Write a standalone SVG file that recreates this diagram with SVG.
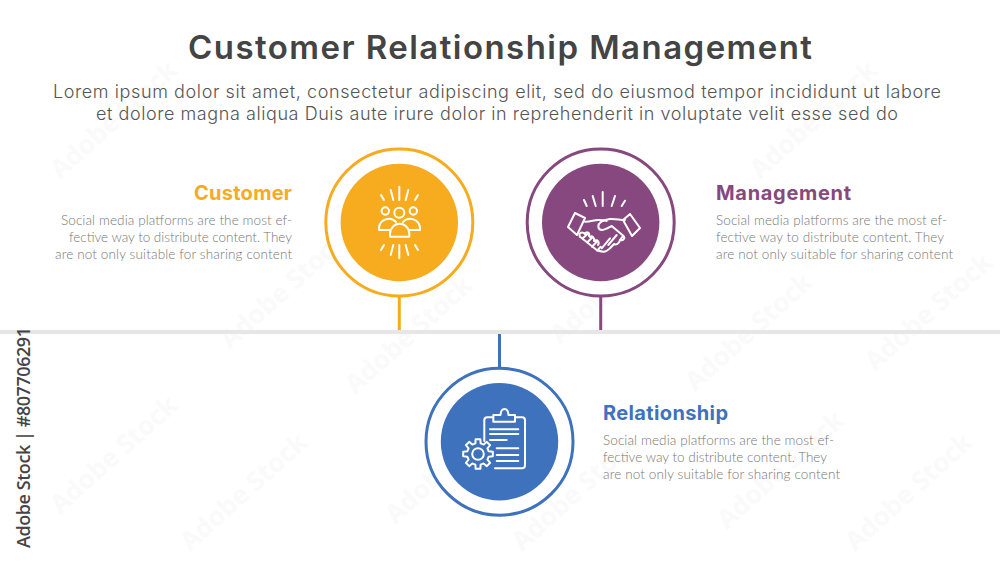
<svg xmlns="http://www.w3.org/2000/svg" width="1000" height="563" viewBox="0 0 1000 563">
<style>
text{font-family:"Inter","Open Sans","Liberation Sans",sans-serif}
.wm{font-size:26px;font-weight:700;fill:#fafafa;font-family:"Open Sans","Liberation Sans",sans-serif}
.t{font-size:33px;font-weight:600;fill:#444}
.s{font-size:18px;font-weight:300;fill:#555}
.h{font-size:20px;font-weight:700}
.b{font-size:13.500px;font-weight:300;fill:#777;font-family:"Lato","Open Sans","Liberation Sans",sans-serif}
.ic{fill:none;stroke:#fff;stroke-width:2;stroke-linecap:round;stroke-linejoin:round}
.ring{fill:#fff;stroke-width:3}
</style>
<rect width="1000" height="563" fill="#fff"/>
<g id="watermarks">
<text class="wm" transform="translate(60,180) rotate(-42)">Adobe Stock</text>
<text class="wm" transform="translate(230,350) rotate(-42)">Adobe Stock</text>
<text class="wm" transform="translate(355,395) rotate(-42)">Adobe Stock</text>
<text class="wm" transform="translate(560,345) rotate(-42)">Adobe Stock</text>
<text class="wm" transform="translate(695,392) rotate(-42)">Adobe Stock</text>
<text class="wm" transform="translate(875,372) rotate(-42)">Adobe Stock</text>
<text class="wm" transform="translate(60,515) rotate(-42)">Adobe Stock</text>
<text class="wm" transform="translate(190,552) rotate(-42)">Adobe Stock</text>
<text class="wm" transform="translate(395,525) rotate(-42)">Adobe Stock</text>
<text class="wm" transform="translate(522,552) rotate(-42)">Adobe Stock</text>
<text class="wm" transform="translate(727,530) rotate(-42)">Adobe Stock</text>
<text class="wm" transform="translate(855,552) rotate(-42)">Adobe Stock</text>
<text class="wm" transform="translate(760,180) rotate(-42)">Adobe Stock</text>
</g>
<text class="t" x="500" y="59" text-anchor="middle" textLength="624" lengthAdjust="spacing">Customer Relationship Management</text>
<text class="s" x="497" y="98" text-anchor="middle" textLength="888" lengthAdjust="spacing">Lorem ipsum dolor sit amet, consectetur adipiscing elit, sed do eiusmod tempor incididunt ut labore</text>
<text class="s" x="497" y="120" text-anchor="middle" textLength="802" lengthAdjust="spacing">et dolore magna aliqua Duis aute irure dolor in reprehenderit in voluptate velit esse sed do</text>
<rect id="divider" x="0" y="330" width="1000" height="4" fill="#e6e6e6"/>
<g id="connectors" stroke-width="3" fill="none">
<path d="M399.300 296V330" stroke="#f7ab1e"/>
<path d="M600.700 296V330" stroke="#86487f"/>
<path d="M499.500 334V368" stroke="#3f72bc"/>
</g>
<g id="node-customer">
<circle class="ring" cx="399.300" cy="222.500" r="73.500" stroke="#f7ab1e"/>
<circle cx="399.300" cy="222.500" r="58.700" fill="#f7ab1e"/>
<g class="ic">
<path d="M399.300 186.700V200M390.700 190L393.300 200M408.300 190L405.700 200M381 195L384 200M418 195L415 200"/>
<path d="M399.300 245V258.300M393.300 245L390.700 255M405.700 245L408.300 255M384 245L381 250M415 245L418 250"/>
<circle cx="399.300" cy="212.700" r="5"/><circle cx="385.300" cy="211" r="3.700"/><circle cx="413.300" cy="211" r="3.700"/>
<path d="M390 230H379V228A9.800 9.800 0 0 1 396 222M409 230H420V228A9.800 9.800 0 0 0 403 222"/>
<path d="M390 236.700V233.500A9.650 9.650 0 0 1 409.300 233.500V236.700Z"/>
</g>
<text class="h" x="292" y="200" text-anchor="end" textLength="98" fill="#f7ab1e">Customer</text>
<text class="b" x="292" y="225" text-anchor="end" textLength="231">Social media platforms are the most ef-</text>
<text class="b" x="292" y="242" text-anchor="end" textLength="223">fective way to distribute content. They</text>
<text class="b" x="292" y="259" text-anchor="end" textLength="237">are not only suitable for sharing content</text>
</g>
<g id="node-management">
<circle class="ring" cx="600.700" cy="222.500" r="73.500" stroke="#86487f"/>
<circle cx="600.700" cy="222.500" r="58.700" fill="#86487f"/>
<g class="ic">
<path d="M602.700 192V206M592.700 196L595.700 206M615 196L611.700 206M584 200L586.700 206M625 200.700L621.700 206"/>
<path d="M575 213L585 218L577 235L568 227ZM630 214L640 228L632 236L623 220Z"/>
<path d="M585 221.700C590 222 594 220 598 220C601 220 604 220 606.700 221"/>
<path d="M625 220C620 220 615 218.500 610 219C604 220 598 222 598.300 226.700C598.500 229 600 230 602 230C605 230 608 228 611.700 226L623.300 235.700C626 238 623 241 620 240L623.300 235.700M620 240C619 244 616 245 614 244M614 244L610 248.300C607 251 605 252 603.300 251.700C601 251.500 599 251 596.700 250L580 236.700"/>
<path d="M582.700 238.300L587.300 234.300M587.300 242.300L592 237.700M592 246.700L596.700 241.700M597.300 250.700L600.700 246.700M601.700 248.300L610 238.300M608.300 245L616.700 235M580 236.700C578 233 582 231 585 234M585 233.500C587 231 590 233 589 236M590 237C592 235 595 238 594 241M595 241C597 239 600 242 598 245"/>
</g>
<text class="h" x="716" y="200" textLength="135" fill="#86487f">Management</text>
<text class="b" x="716" y="225" textLength="231">Social media platforms are the most ef-</text>
<text class="b" x="716" y="242" textLength="228">fective way to distribute content. They</text>
<text class="b" x="716" y="259" textLength="237">are not only suitable for sharing content</text>
</g>
<g id="node-relationship">
<circle class="ring" cx="499.500" cy="441.700" r="73.500" stroke="#3f72bc"/>
<circle cx="499.500" cy="441.700" r="58.700" fill="#3f72bc"/>
<g class="ic">
<path d="M484.300 441V420.300Q484.300 417.300 487.300 417.300H493.300M515 417.300H522Q525 417.300 525 420.300V465.300Q525 468.300 522 468.300H495"/>
<path d="M493.300 421.700V415H500.500C501 407 508 407 508.500 415H515V421.700Z"/>
<path d="M490 429.300H518.300M490 434H518.300M490 440H506.700M496.700 448.300H518.300M496.700 455H518.300M496.700 461H518.300"/>
<circle cx="478" cy="454" r="5.800"/>
<path transform="translate(478,454)" d="M10.670-2.660L14.820-2.350L14.820 2.350L10.670 2.660L9.430 5.670L12.140 8.820L8.820 12.140L5.670 9.430L2.660 10.670L2.350 14.820L-2.350 14.820L-2.660 10.670L-5.670 9.430L-8.820 12.140L-12.140 8.820L-9.430 5.670L-10.670 2.660L-14.820 2.350L-14.820-2.350L-10.670-2.660L-9.430-5.670L-12.140-8.820L-8.820-12.140L-5.670-9.430L-2.660-10.670L-2.350-14.820L2.350-14.820L2.660-10.670L5.670-9.430L8.820-12.140L12.140-8.820L9.430-5.670Z"/>
</g>
<text class="h" x="603" y="420" textLength="125" fill="#3f72bc">Relationship</text>
<text class="b" x="603" y="445" textLength="231">Social media platforms are the most ef-</text>
<text class="b" x="603" y="462" textLength="224">fective way to distribute content. They</text>
<text class="b" x="603" y="479" textLength="237">are not only suitable for sharing content</text>
</g>
<text transform="translate(30,548) rotate(-90)" font-size="18" font-weight="600" fill="#444" textLength="221" style="font-family:'Open Sans','Liberation Sans',sans-serif">Adobe Stock | #807706291</text>
</svg>
